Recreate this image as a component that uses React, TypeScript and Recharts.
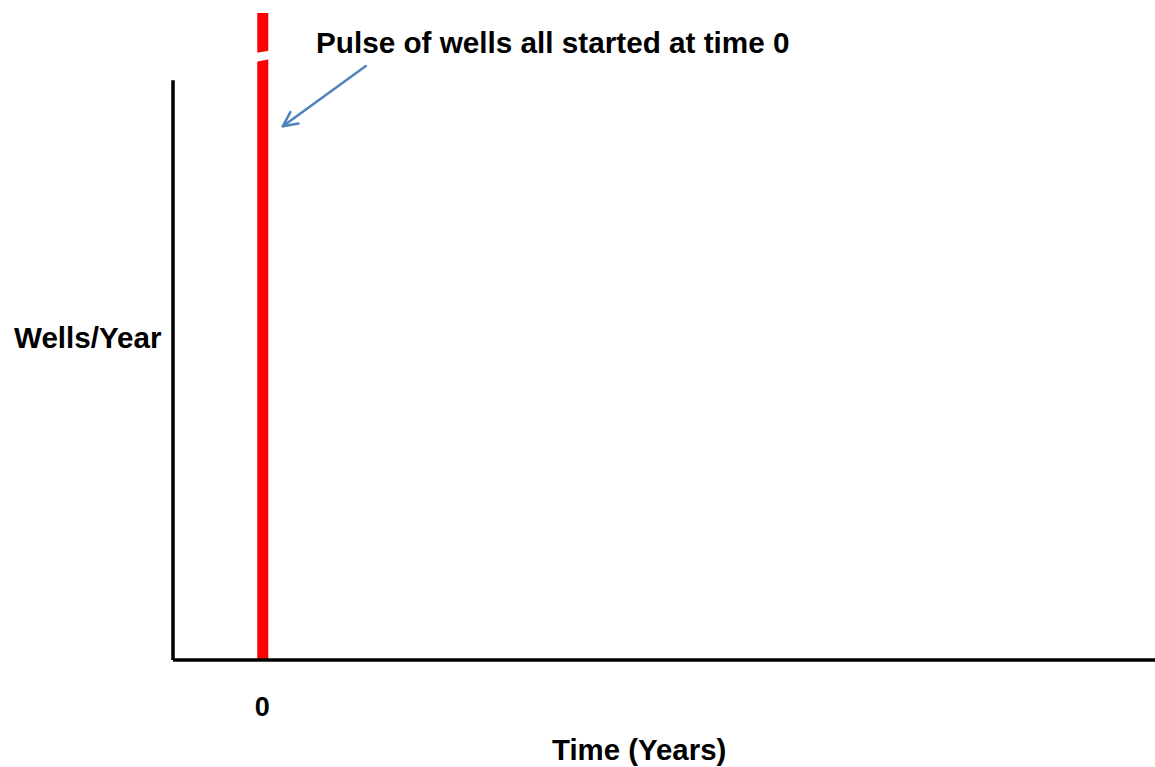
import { Bar, ComposedChart, ReferenceLine, XAxis, YAxis } from "recharts";

const years = [0];
const wellsPerYear = [100];
const xTicks = [0];
const xDomain: [number, number] = [-1, 10];
const yDomain: [number, number] = [0, 100];
const yAxisTop = 89.6;
// arrow from label to pulse, in data units
const arrowFrom = { x: 1.16, y: 91.8 };
const arrowTo = { x: 0.23, y: 82.5 };

const data = years.map((t, i) => ({ t, wells: wellsPerYear[i] }));

const FONT = '"Liberation Sans", Arial, sans-serif';

function BrokenBar(props: any) {
  const { x, y, width, height } = props;
  // white slanted cut near the top: the pulse is off the scale
  const gap = `${x - 2},${y + 40} ${x + width + 2},${y + 37.5} ${x + width + 2},${y + 46} ${x - 2},${y + 49}`;
  return (
    <g>
      <rect x={x} y={y} width={width} height={height} fill="#ff0000" />
      <polygon points={gap} fill="#ffffff" />
    </g>
  );
}

function Arrow(props: any) {
  const { x1, y1, x2, y2 } = props;
  if (x1 == null) return null;
  const ang = Math.atan2(y2 - y1, x2 - x1);
  const len = 16;
  const spread = 0.45;
  const ax = x2 - len * Math.cos(ang - spread);
  const ay = y2 - len * Math.sin(ang - spread);
  const bx = x2 - len * Math.cos(ang + spread);
  const by = y2 - len * Math.sin(ang + spread);
  return (
    <g stroke="#4f81bd" strokeWidth={2.5} fill="none" strokeLinecap="round" strokeLinejoin="round">
      <line x1={x1} y1={y1} x2={x2} y2={y2} />
      <polyline points={`${ax},${ay} ${x2},${y2} ${bx},${by}`} />
    </g>
  );
}

function ZeroTick(props: any) {
  const { x, y, payload } = props;
  return (
    <text x={x} y={y} dy={48} textAnchor="middle" fontFamily={FONT} fontWeight="bold" fontSize={27} fill="#000">
      {payload.value}
    </text>
  );
}

export default function App() {
  return (
    <div style={{ position: "fixed", left: 0, top: 0, width: 1155, height: 767, fontFamily: FONT, fontWeight: "bold", background: "#fff" }}>
      <ComposedChart width={1155} height={767} data={data} margin={{ top: 13, right: 0, bottom: 47, left: 173 }}>
        <XAxis
          dataKey="t"
          type="number"
          domain={xDomain}
          ticks={xTicks}
          allowDataOverflow
          tickLine={false}
          axisLine={{ stroke: "#000", strokeWidth: 3.5 }}
          tick={<ZeroTick />}
          height={60}
        />
        <YAxis hide domain={yDomain} allowDataOverflow />
        <ReferenceLine
          segment={[{ x: xDomain[0], y: 0 }, { x: xDomain[0], y: yAxisTop }]}
          stroke="#000"
          strokeWidth={3.5}
          ifOverflow="visible"
        />
        <Bar dataKey="wells" barSize={11} shape={<BrokenBar />} isAnimationActive={false} />
        <ReferenceLine
          segment={[arrowFrom, arrowTo]}
          shape={<Arrow />}
          ifOverflow="visible"
        />
      </ComposedChart>
      <div style={{ position: "absolute", left: 316, top: 26, fontSize: 29.7, whiteSpace: "nowrap" }}>
        Pulse of wells all started at time 0
      </div>
      <div style={{ position: "absolute", left: 14, top: 321, fontSize: 29.6, whiteSpace: "nowrap" }}>
        Wells/Year
      </div>
      <div style={{ position: "absolute", left: 552, top: 733, fontSize: 29.4, whiteSpace: "nowrap" }}>
        Time (Years)
      </div>
    </div>
  );
}
